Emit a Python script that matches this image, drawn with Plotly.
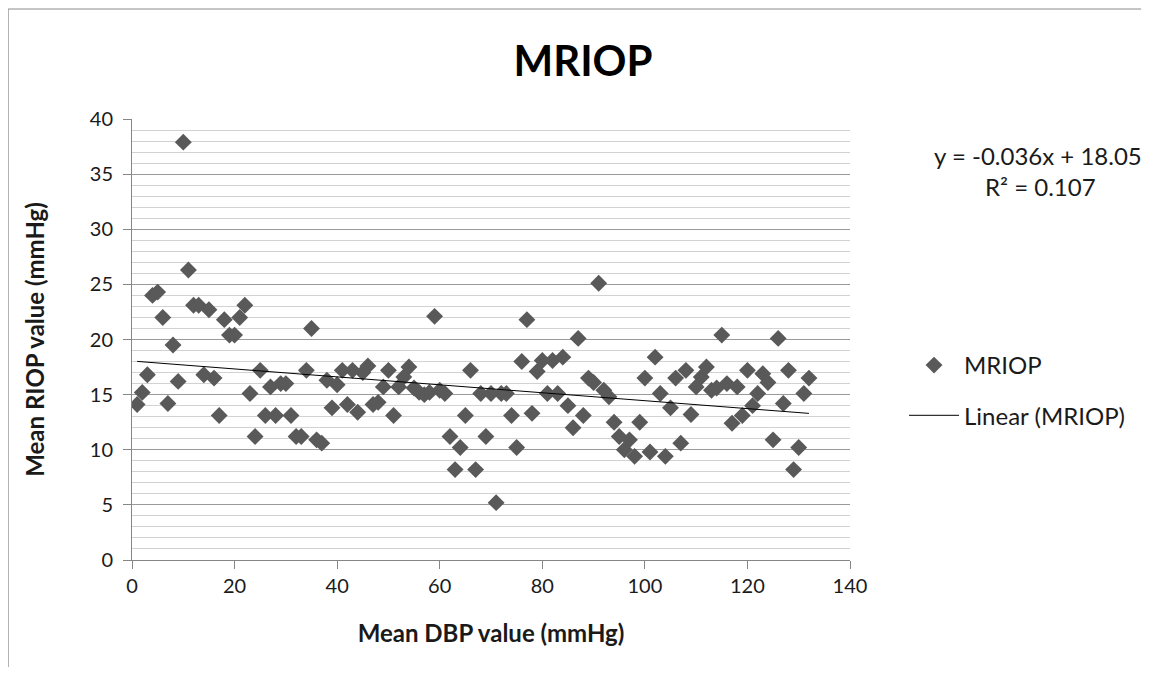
import plotly.graph_objects as go
import numpy as np

# Data
dbp = list(range(1, 133))
riop = [14.1, 15.2, 16.8, 24.0, 24.3, 22.0, 14.2, 19.5, 16.2, 37.9,
        26.3, 23.1, 23.1, 16.8, 22.7, 16.5, 13.1, 21.8, 20.4, 20.4,
        22.0, 23.1, 15.1, 11.2, 17.2, 13.1, 15.7, 13.1, 16.0, 16.0,
        13.1, 11.2, 11.2, 17.2, 21.0, 10.9, 10.6, 16.3, 13.8, 15.9,
        17.2, 14.1, 17.2, 13.4, 17.0, 17.6, 14.1, 14.3, 15.7, 17.2,
        13.1, 15.7, 16.6, 17.5, 15.6, 15.2, 15.0, 15.2, 22.1, 15.4,
        15.1, 11.2, 8.2, 10.2, 13.1, 17.2, 8.2, 15.1, 11.2, 15.1,
        5.2, 15.1, 15.1, 13.1, 10.2, 18.0, 21.8, 13.3, 17.1, 18.1,
        15.1, 18.1, 15.1, 18.4, 14.0, 12.0, 20.1, 13.1, 16.5, 16.1,
        25.1, 15.4, 14.8, 12.5, 11.2, 10.0, 10.9, 9.4, 12.5, 16.5,
        9.8, 18.4, 15.1, 9.4, 13.8, 16.5, 10.6, 17.2, 13.2, 15.7,
        16.6, 17.5, 15.4, 15.6, 20.4, 16.0, 12.4, 15.7, 13.1, 17.2,
        14.0, 15.1, 16.9, 16.1, 10.9, 20.1, 14.2, 17.2, 8.2, 10.2,
        15.1, 16.5]

slope = -0.036
intercept = 18.05
r_squared = 0.107

x_ticks = [0, 20, 40, 60, 80, 100, 120, 140]
y_ticks = [0, 5, 10, 15, 20, 25, 30, 35, 40]

FONT = "Lato"
TXT = "#1a1a1a"
OFF = 8  # page body margin
W = 1150 - 2 * OFF
H = 675 - 2 * OFF

x_fit = np.array([min(dbp), max(dbp)])
y_fit = slope * x_fit + intercept

fig = go.Figure()
fig.add_trace(go.Scatter(
    x=dbp, y=riop, mode="markers", name="MRIOP", legendgroup="a",
    marker=dict(symbol="diamond", size=13, color="#595959",
                line=dict(width=0)),
))
fig.add_trace(go.Scatter(
    x=x_fit, y=y_fit, mode="lines", name="Linear (MRIOP)", legendgroup="b",
    line=dict(color="#000000", width=1),
))

PW = 850 - 132.3
PH = 560 - 119

fig.update_layout(
    width=W, height=H,
    margin=dict(l=132 - OFF, r=(OFF + W) - 850, t=119 - OFF, b=(OFF + H) - 560),
    paper_bgcolor="white", plot_bgcolor="white",
    font=dict(family=FONT, size=18, color=TXT),
    title=dict(text="<b>MRIOP</b>", x=(583 - OFF) / W, xref="container", xanchor="center",
               y=1 - (61 - OFF) / H, yref="container", yanchor="middle",
               font=dict(family=FONT, size=42, color="#000000")),
    showlegend=True,
    legend=dict(x=(904 - 132.3) / PW, y=(560 - 343) / PH, xanchor="left", yanchor="top",
                font=dict(family=FONT, size=24, color=TXT), itemwidth=50,
                bgcolor="rgba(0,0,0,0)", tracegroupgap=16),
    xaxis=dict(range=[0, 140], tickvals=x_ticks, showgrid=False, zeroline=False,
               showline=True, linecolor="#868686", linewidth=1,
               ticks="outside", ticklen=8, tickcolor="#868686",
               tickfont=dict(family=FONT, size=20, color=TXT),
               title=dict(text="<b>Mean DBP value (mmHg)</b>", standoff=29,
                          font=dict(family=FONT, size=24, color=TXT))),
    yaxis=dict(range=[0, 40], tickvals=y_ticks, showgrid=True, gridcolor="#9a9a9a",
               gridwidth=1, zeroline=False,
               showline=True, linecolor="#868686", linewidth=1,
               ticks="outside", ticklen=8, tickcolor="#868686", ticklabelstandoff=6,
               minor=dict(dtick=1, showgrid=True, gridcolor="#d2d2d2", gridwidth=1),
               tickfont=dict(family=FONT, size=20, color=TXT),
               title=dict(text="<b>Mean RIOP value (mmHg)</b>", standoff=38,
                          font=dict(family=FONT, size=24, color=TXT))),
)

eq_text = f"y = {slope}x + {intercept}"
r_text = f"R² = {r_squared}"
fig.add_annotation(text=eq_text, xref="paper", yref="paper",
                   x=(1038 - 132.3) / PW, y=(560 - 155) / PH,
                   xanchor="center", yanchor="middle", showarrow=False,
                   font=dict(family=FONT, size=24, color=TXT))
fig.add_annotation(text=r_text, xref="paper", yref="paper",
                   x=(1040 - 132.3) / PW, y=(560 - 186) / PH,
                   xanchor="center", yanchor="middle", showarrow=False,
                   font=dict(family=FONT, size=24, color=TXT))

# outer chart border (left and top edges only)
bx0 = (8.5 - 132.3) / PW
bx1 = (OFF + W - 1 - 132.3) / PW
by0 = (560 - (OFF + H)) / PH
by1 = (560 - 9) / PH
fig.add_shape(type="path", xref="paper", yref="paper",
              path=f"M {bx0},{by0} L {bx0},{by1} L {bx1},{by1}",
              line=dict(color="#8a8a8a", width=1), layer="below")

fig.write_html("out.html", config={"displayModeBar": False})
